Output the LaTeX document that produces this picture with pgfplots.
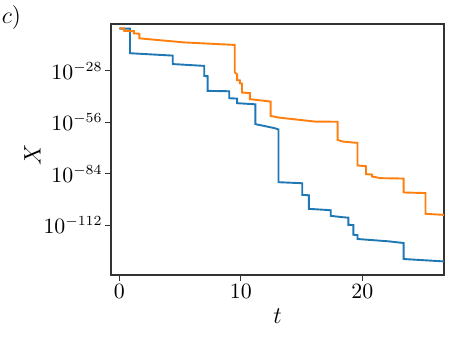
\documentclass[border=0pt]{standalone}
\usepackage{pgfplots}
\pgfplotsset{compat=1.18}
\definecolor{mplblue}{HTML}{1F77B4}
\definecolor{mplorange}{HTML}{FF7F0E}
\begin{document}
\begin{tikzpicture}
\begin{axis}[
  at={(0,0)}, anchor=south west,
  scale only axis,
  width=166.5bp, height=125.5bp,
  xmin=-0.68, xmax=26.72,
  ymin=-139.2, ymax=-2.6,
  xtick={0,10,20},
  ytick={-28,-56,-84,-112},
  yticklabels={$10^{-28}$,$10^{-56}$,$10^{-84}$,$10^{-112}$},
  tick align=outside,
  major tick length=3bp,
  tick style={black!80, line width=0.5bp},
  axis line style={black!80, line width=0.6bp},
  ticklabel style={font=\fontsize{10.5}{12}\selectfont},
  yticklabel style={inner sep=1bp},
  xticklabel style={inner sep=1.5bp},
  xtick pos=bottom, ytick pos=left,
  clip=true,
]
\addplot[mplblue, line width=0.95bp] coordinates {
(0,-5.1) (0.88,-5.1) (0.88,-18.5) (4.4,-19.8) (4.4,-24.4) (6.99,-25.4) (6.99,-30.9)
(7.27,-31.0) (7.27,-39.0) (9.05,-39.2) (9.05,-43.0) (9.7,-43.2) (9.7,-45.7)
(11.2,-46.3) (11.2,-57.1) (12.8,-59.3) (13.1,-60.0) (13.1,-88.7) (14.9,-89.2)
(15.06,-89.3) (15.06,-95.6) (15.6,-95.8) (15.6,-103.2) (17.3,-103.9) (17.4,-104.0)
(17.4,-107.0) (18.3,-107.7) (18.85,-108.0) (18.85,-111.9) (19.26,-112.0) (19.26,-117.3)
(19.6,-117.5) (19.6,-119.6) (22.2,-120.9) (23.4,-121.8) (23.4,-130.5) (26.7,-131.8) (27,-131.9)
};
\addplot[mplorange, line width=0.95bp] coordinates {
(0,-5.0) (0.4,-5.0) (0.4,-6.3) (1.2,-6.5) (1.2,-7.7) (1.65,-7.9) (1.65,-10.4)
(5.3,-12.6) (9.5,-14.0) (9.5,-28.9) (9.7,-30.0) (9.7,-33.1) (9.93,-33.3) (9.93,-34.9)
(10.1,-35.0) (10.1,-39.9) (10.75,-40.2) (10.75,-43.5) (12.45,-44.8) (12.45,-52.6)
(13.1,-53.5) (16.1,-55.7) (17.97,-55.8) (17.97,-65.7) (18.4,-66.6) (19.6,-67.3)
(19.6,-79.6) (20.3,-80.0) (20.3,-84.3) (20.8,-84.5) (20.8,-85.6) (21.5,-86.5)
(23.4,-86.7) (23.4,-94.3) (25.2,-94.6) (25.2,-105.9) (27,-106.6)
};
\end{axis}
\node[font=\fontsize{12.5}{14}\selectfont] at (-49.75bp,128.5bp) {$c)$};
\node[font=\fontsize{12.5}{14}\selectfont, rotate=90] at (-39.25bp,60.25bp) {$X$};
\node[font=\fontsize{12.5}{14}\selectfont] at (83.25bp,-20.5bp) {$t$};
\pgfresetboundingbox
\path (-55.5bp,-38bp) rectangle (179bp,137.5bp);
\end{tikzpicture}
\end{document}
